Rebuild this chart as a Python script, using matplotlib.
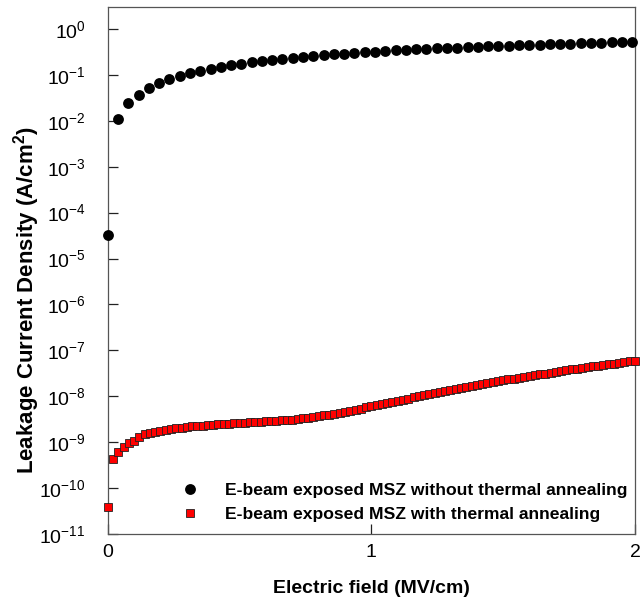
import matplotlib
matplotlib.use("Agg")
import matplotlib.pyplot as plt

plt.rcParams["font.family"] = ["Liberation Sans", "DejaVu Sans"]
plt.rcParams["mathtext.fontset"] = "custom"
plt.rcParams["mathtext.rm"] = "Liberation Sans"
plt.rcParams["mathtext.bf"] = "Liberation Sans:bold"
plt.rcParams["mathtext.default"] = "regular"

# E-beam exposed MSZ without thermal annealing
field_no_anneal = [0.000, 0.039, 0.078, 0.117, 0.156, 0.195, 0.234, 0.273, 0.312, 0.351,
                   0.390, 0.429, 0.468, 0.507, 0.546, 0.585, 0.624, 0.663, 0.702, 0.741,
                   0.780, 0.819, 0.858, 0.897, 0.936, 0.975, 1.014, 1.053, 1.092, 1.131,
                   1.170, 1.209, 1.248, 1.287, 1.326, 1.365, 1.404, 1.443, 1.482, 1.521,
                   1.560, 1.599, 1.638, 1.677, 1.716, 1.755, 1.794, 1.833, 1.872, 1.911,
                   1.950, 1.989]
j_no_anneal = [3.2e-5, 1.1e-2, 0.024, 0.037, 0.051, 0.066, 0.081, 0.095, 0.109, 0.124,
               0.135, 0.149, 0.160, 0.174, 0.190, 0.200, 0.210, 0.220, 0.235, 0.246,
               0.260, 0.270, 0.280, 0.290, 0.300, 0.310, 0.320, 0.330, 0.340, 0.350,
               0.360, 0.365, 0.375, 0.385, 0.390, 0.400, 0.410, 0.415, 0.425, 0.430,
               0.440, 0.445, 0.455, 0.460, 0.470, 0.475, 0.485, 0.490, 0.500, 0.510,
               0.520, 0.530]

# E-beam exposed MSZ with thermal annealing
field_anneal = [0.00, 0.02, 0.04, 0.06, 0.08, 0.10, 0.12, 0.14, 0.16, 0.18,
                0.20, 0.22, 0.24, 0.26, 0.28, 0.30, 0.32, 0.34, 0.36, 0.38,
                0.40, 0.42, 0.44, 0.46, 0.48, 0.50, 0.52, 0.54, 0.56, 0.58,
                0.60, 0.62, 0.64, 0.66, 0.68, 0.70, 0.72, 0.74, 0.76, 0.78,
                0.80, 0.82, 0.84, 0.86, 0.88, 0.90, 0.92, 0.94, 0.96, 0.98,
                1.00, 1.02, 1.04, 1.06, 1.08, 1.10, 1.12, 1.14, 1.16, 1.18,
                1.20, 1.22, 1.24, 1.26, 1.28, 1.30, 1.32, 1.34, 1.36, 1.38,
                1.40, 1.42, 1.44, 1.46, 1.48, 1.50, 1.52, 1.54, 1.56, 1.58,
                1.60, 1.62, 1.64, 1.66, 1.68, 1.70, 1.72, 1.74, 1.76, 1.78,
                1.80, 1.82, 1.84, 1.86, 1.88, 1.90, 1.92, 1.94, 1.96, 1.98,
                2.00]
j_anneal = [3.9e-11, 4.4e-10, 6.0e-10, 7.8e-10, 9.5e-10, 1.07e-9, 1.32e-9, 1.47e-9, 1.57e-9, 1.67e-9,
            1.78e-9, 1.87e-9, 1.95e-9, 2.02e-9, 2.08e-9, 2.14e-9, 2.20e-9, 2.25e-9, 2.30e-9, 2.35e-9,
            2.40e-9, 2.45e-9, 2.50e-9, 2.55e-9, 2.60e-9, 2.64e-9, 2.68e-9, 2.72e-9, 2.76e-9, 2.80e-9,
            2.84e-9, 2.88e-9, 2.92e-9, 2.97e-9, 3.02e-9, 3.10e-9, 3.20e-9, 3.30e-9, 3.40e-9, 3.55e-9,
            3.70e-9, 3.85e-9, 4.00e-9, 4.20e-9, 4.40e-9, 4.60e-9, 4.85e-9, 5.10e-9, 5.40e-9, 5.70e-9,
            6.00e-9, 6.35e-9, 6.70e-9, 7.10e-9, 7.50e-9, 7.95e-9, 8.40e-9, 8.90e-9, 9.40e-9, 1.00e-8,
            1.05e-8, 1.11e-8, 1.17e-8, 1.23e-8, 1.30e-8, 1.37e-8, 1.44e-8, 1.52e-8, 1.60e-8, 1.68e-8,
            1.76e-8, 1.85e-8, 1.94e-8, 2.03e-8, 2.12e-8, 2.22e-8, 2.32e-8, 2.42e-8, 2.53e-8, 2.64e-8,
            2.75e-8, 2.87e-8, 3.00e-8, 3.13e-8, 3.26e-8, 3.40e-8, 3.54e-8, 3.68e-8, 3.83e-8, 3.98e-8,
            4.13e-8, 4.29e-8, 4.45e-8, 4.62e-8, 4.80e-8, 4.98e-8, 5.16e-8, 5.35e-8, 5.55e-8, 5.75e-8,
            6.00e-8]

labels = ["E-beam exposed MSZ without thermal annealing",
          "E-beam exposed MSZ with thermal annealing"]
y_exponents = list(range(0, -12, -1))
x_ticks = [0, 1, 2]

fig = plt.figure(figsize=(6.41, 6.11), dpi=100)
ax = fig.add_axes([0.168, 0.126, 0.8226, 0.8625])

ax.plot(field_no_anneal, j_no_anneal, "o", color="black", markersize=7.8,
        markeredgewidth=0, clip_on=False, label=labels[0], zorder=3)
ax.plot(field_anneal, j_anneal, "s", color="#ff0000", markeredgecolor="#222222",
        markersize=6.0, markeredgewidth=0.6, clip_on=False, label=labels[1], zorder=3)

ax.set_yscale("log")
ax.set_xlim(0, 2)
ax.set_ylim(1e-11, 3.0)
ax.set_yticks([10.0 ** e for e in y_exponents])
ax.set_yticklabels(["10$^{%d}$" % e for e in y_exponents])
ax.minorticks_off()
ax.set_xticks(x_ticks)
ax.set_xticklabels([str(t) for t in x_ticks])

ax.tick_params(axis="both", direction="in", length=7.5, width=0.9, labelsize=14,
               color="#222222")
ax.tick_params(axis="y", pad=16)
ax.tick_params(axis="x", pad=7)
for sp in ax.spines.values():
    sp.set_color("#555555")
    sp.set_linewidth(0.9)

ax.set_xlabel("Electric field (MV/cm)", fontsize=14, fontweight="bold")
ax.set_ylabel("Leakage Current Density (A/cm$^{\\mathbf{2}}$)", fontsize=16, fontweight="bold")
ax.xaxis.set_label_coords(0.5, -0.088)
ax.yaxis.set_label_coords(-0.125, 0.444)

ax.legend(loc="lower left", bbox_to_anchor=(0.0995, 0.0), frameon=False,
          prop={"weight": "bold", "size": 12.6}, handletextpad=1.0,
          labelspacing=0.5, borderpad=0.2)

fig.savefig("out.png", dpi=100)
